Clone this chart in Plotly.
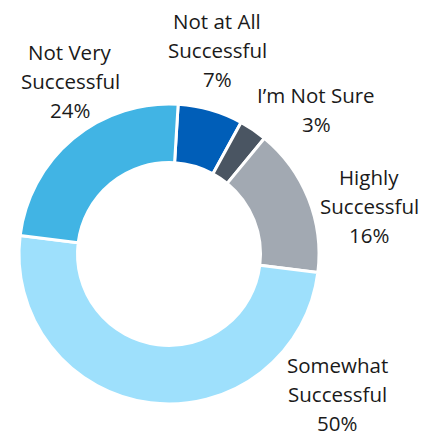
import plotly.graph_objects as go

labels = ["Not at All Successful", "I’m Not Sure", "Highly Successful", "Somewhat Successful", "Not Very Successful"]
label_lines = [["Not at All", "Successful"], ["I’m Not Sure"], ["Highly", "Successful"], ["Somewhat", "Successful"], ["Not Very", "Successful"]]
values = [7, 3, 16, 50, 24]
colors = ["#005eb8", "#4a5562", "#a2a9b2", "#9ee0fc", "#41b4e4"]
# label block centers (pixel x, first-line pixel y)
label_pos = [(217, 21), (316, 95), (369, 177), (337, 365), (70, 52)]

W, H = 437, 436
cx, cy, r = 169, 254, 150

fig = go.Figure(go.Pie(
    labels=labels, values=values, sort=False, direction="clockwise", rotation=3.5,
    hole=0.61, marker=dict(colors=colors, line=dict(color="white", width=3)),
    textinfo="none", hoverinfo="label+percent", showlegend=False,
    domain=dict(x=[(cx - r) / W, (cx + r) / W], y=[(H - cy - r) / H, (H - cy + r) / H]),
))

annotations = []
for lines, v, (px, py) in zip(label_lines, values, label_pos):
    for i, t in enumerate(lines + [f"{v}%"]):
        annotations.append(dict(
            text=t, x=px / W, y=1 - (py + i * 29) / H, xref="paper", yref="paper",
            xanchor="center", yanchor="middle", showarrow=False, borderpad=0,
            font=dict(family="Open Sans, sans-serif", size=20.5, color="#1a1a1a"),
        ))

fig.update_layout(
    width=W, height=H, margin=dict(l=0, r=0, t=0, b=0),
    paper_bgcolor="white", plot_bgcolor="white", annotations=annotations,
)
fig.write_html("out.html")
